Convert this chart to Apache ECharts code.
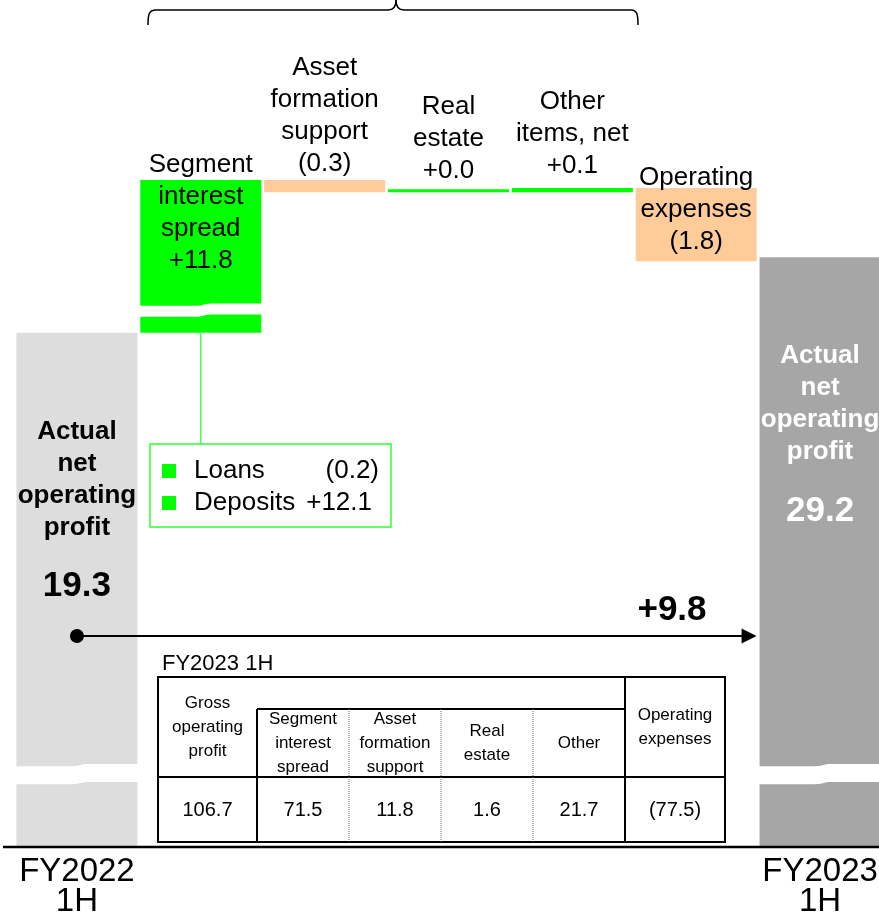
<!DOCTYPE html>
<html>
<head>
<meta charset="utf-8">
<script src="https://cdn.jsdelivr.net/npm/echarts@6/dist/echarts.min.js"></script>
<style>
  html, body { margin: 0; padding: 0; background: #fff; }
  #chart { width: 879px; height: 913px; }
</style>
</head>
<body>
<div id="chart"></div>
<script>
// ---- data ----
const categories = [
  'FY2022\n1H',
  'Segment\ninterest\nspread',
  'Asset\nformation\nsupport',
  'Real\nestate',
  'Other\nitems, net',
  'Operating\nexpenses',
  'FY2023\n1H'
];
const startValue = 19.3;                     // FY2022 1H
const changes = [11.8, -0.3, 0.0, 0.1, -1.8]; // bridge items
const endValue = 29.2;                       // FY2023 1H
const totalChange = 9.8;
const totalTitle = ['Actual', 'net', 'operating', 'profit'];

const breakdownNames = ['Loans', 'Deposits'];
const breakdownValues = [-0.2, 12.1];

const tableTitle = 'FY2023 1H';
const tableHeaders = [
  'Gross\noperating\nprofit',
  'Segment\ninterest\nspread',
  'Asset\nformation\nsupport',
  'Real\nestate',
  'Other',
  'Operating\nexpenses'
];
const tableValues = [106.7, 71.5, 11.8, 1.6, 21.7, -77.5];

// compressed value ranges of the y axis
const axisBreaks = [[1.55, 8.65], [19.72, 28.03]];

// ---- helpers ----
const FONT = "'Liberation Sans', Arial, Helvetica, sans-serif";
const fmtChange = v => v < 0 ? '(' + Math.abs(v).toFixed(1) + ')' : '+' + v.toFixed(1);
const fmtPlain = v => v < 0 ? '(' + Math.abs(v).toFixed(1) + ')' : v.toFixed(1);

// waterfall: invisible base + visible segment
const bases = [0];
const heights = [startValue];
let running = startValue;
changes.forEach(c => {
  bases.push(c >= 0 ? running : running + c);
  heights.push(Math.abs(c));
  running += c;
});
bases.push(0);
heights.push(endValue);

const PX_PER_UNIT = 40.6;
const BAR_W = 121;

const colorFor = i => {
  if (i === 0) return '#dddddd';
  if (i === categories.length - 1) return '#a6a6a6';
  return changes[i - 1] >= 0 ? '#00ff00' : '#ffcc99';
};

const totalLabel = (value, color) => ({
  show: true,
  position: 'insideTop',
  distance: 83,
  formatter: totalTitle.map(t => '{t|' + t + '}').join('\n') + '\n{v|' + value.toFixed(1) + '}',
  rich: {
    t: { fontFamily: FONT, fontSize: 26, fontWeight: 'bold', lineHeight: 32, color: color },
    v: { fontFamily: FONT, fontSize: 35, fontWeight: 'bold', lineHeight: 86, color: color }
  }
});

// label placement of the bridge items
const midLabelPlace = [
  { position: 'insideTop', distance: 0, offset: [0, -31] },
  { position: 'top', distance: 0, offset: [0, 0] },
  { position: 'top', distance: 2, offset: [0, 0] },
  { position: 'top', distance: 6, offset: [0, 0] },
  { position: 'insideTop', distance: 0, offset: [0, -26] }
];

const seriesData = heights.map((h, i) => {
  let label;
  if (i === 0) label = totalLabel(startValue, '#000');
  else if (i === categories.length - 1) label = totalLabel(endValue, '#fff');
  else {
    const p = midLabelPlace[i - 1];
    label = {
      show: true,
      position: p.position,
      distance: p.distance,
      offset: p.offset,
      formatter: categories[i] + '\n' + fmtChange(changes[i - 1]),
      fontFamily: FONT,
      fontSize: 26,
      lineHeight: 32,
      color: '#000'
    };
  }
  return { value: h, itemStyle: { color: colorFor(i) }, label };
});

const unitsShown = 32 - axisBreaks.reduce((s, b) => s + (b[1] - b[0]), 0);
const gapA = 18 / PX_PER_UNIT;
const gapB = 11 / PX_PER_UNIT;
const axisPx = (unitsShown + gapA + gapB) * PX_PER_UNIT;
const ZERO_Y = 846;

const chart = echarts.init(document.getElementById('chart'), null, { renderer: 'canvas' });

chart.setOption({
  animation: false,
  backgroundColor: '#fff',
  textStyle: { fontFamily: FONT },
  grid: { left: 15, width: 867, top: ZERO_Y - axisPx, height: axisPx, containLabel: false, outerBoundsMode: 'none' },
  xAxis: {
    type: 'category',
    data: categories,
    axisLine: { show: false },
    axisTick: { show: false },
    axisLabel: {
      interval: 0,
      margin: 11,
      fontFamily: FONT,
      fontSize: 33,
      lineHeight: 30,
      color: '#000',
      formatter: (v, i) => (i === 0 || i === categories.length - 1) ? v : ''
    }
  },
  yAxis: {
    type: 'value',
    min: 0,
    max: 32,
    axisLine: { show: false },
    axisTick: { show: false },
    axisLabel: { show: false },
    splitLine: { show: false },
    breaks: [
      { start: axisBreaks[0][0], end: axisBreaks[0][1], gap: gapA },
      { start: axisBreaks[1][0], end: axisBreaks[1][1], gap: gapB }
    ],
    breakArea: { show: false, itemStyle: { opacity: 0, borderWidth: 0 } }
  },
  series: [
    {
      name: 'base',
      type: 'bar',
      stack: 'bridge',
      barWidth: BAR_W,
      silent: true,
      itemStyle: { color: 'rgba(0,0,0,0)' },
      data: bases
    },
    {
      name: 'value',
      type: 'bar',
      stack: 'bridge',
      barWidth: BAR_W,
      barMinHeight: 3,
      data: seriesData
    }
  ]
});

// ---- annotations ----
const px = (i) => chart.convertToPixel({ xAxisIndex: 0 }, i);
const py = (v) => chart.convertToPixel({ yAxisIndex: 0 }, v);

// white wavy cut across a bar where the axis is broken
function breakStrip(xc, yTop, yBot) {
  const x0 = xc - BAR_W / 2 - 1, x1 = xc + BAR_W / 2 + 2, xm = xc + 3, d = 1.1;
  const edge = (x, y) => y - d * Math.tanh((x - xm) / 4);
  const top = [], bot = [];
  for (let x = x0; x <= x1 + 0.01; x += 2) {
    top.push([x, edge(x, yTop)]);
    bot.push([x, edge(x, yBot)]);
  }
  return { type: 'polygon', shape: { points: top.concat(bot.reverse()) }, style: { fill: '#fff' }, z: 50 };
}

const g = [];
const last = categories.length - 1;

// axis-break cuts
const aTop = py(axisBreaks[0][1]), aBot = py(axisBreaks[0][0]);
const bTop = py(axisBreaks[1][1]), bBot = py(axisBreaks[1][0]);
g.push(breakStrip(px(0), aTop, aBot));
g.push(breakStrip(px(last), aTop, aBot));
g.push(breakStrip(px(1), bTop, bBot));

// baseline
const baseY = py(0) + 1;
g.push({ type: 'line', shape: { x1: 3, y1: baseY, x2: 879, y2: baseY }, style: { stroke: '#000', lineWidth: 2.5 }, z: 60 });

// brace over the bridge items
const braceStyle = { fill: 'none', stroke: '#000', lineWidth: 1.5 };
g.push({ type: 'bezierCurve', shape: { x1: 148, y1: 25, x2: 156, y2: 10, cpx1: 148, cpy1: 14, cpx2: 149, cpy2: 10 }, style: braceStyle, z: 60 });
g.push({ type: 'line', shape: { x1: 156, y1: 10, x2: 388, y2: 10 }, style: braceStyle, z: 60 });
g.push({ type: 'bezierCurve', shape: { x1: 388, y1: 10, x2: 396, y2: 0, cpx1: 394, cpy1: 10, cpx2: 396, cpy2: 6 }, style: braceStyle, z: 60 });
g.push({ type: 'bezierCurve', shape: { x1: 396, y1: 0, x2: 404, y2: 10, cpx1: 396, cpy1: 6, cpx2: 398, cpy2: 10 }, style: braceStyle, z: 60 });
g.push({ type: 'line', shape: { x1: 404, y1: 10, x2: 631, y2: 10 }, style: braceStyle, z: 60 });
g.push({ type: 'bezierCurve', shape: { x1: 631, y1: 10, x2: 638, y2: 25, cpx1: 637, cpy1: 10, cpx2: 638, cpy2: 14 }, style: braceStyle, z: 60 });

// breakdown of the segment interest spread
const segX = px(1);
const segBottomY = py(startValue);
const box = { x: 150, y: 444, w: 241, h: 83 };
g.push({ type: 'line', shape: { x1: segX, y1: segBottomY, x2: segX, y2: box.y }, style: { stroke: '#33ff33', lineWidth: 1.3 }, z: 60 });
g.push({ type: 'rect', shape: { x: box.x, y: box.y, width: box.w, height: box.h }, style: { fill: '#fff', stroke: '#33ff33', lineWidth: 1.5 }, z: 60 });
breakdownNames.forEach((n, i) => {
  const cy = 471 + i * 32;
  g.push({ type: 'rect', shape: { x: 162, y: cy - 7, width: 14, height: 14 }, style: { fill: '#00ff00' }, z: 61 });
  g.push({ type: 'text', x: 194, y: cy, style: { text: n, fontFamily: FONT, fontSize: 26, fill: '#000', textAlign: 'left', textVerticalAlign: 'middle' }, z: 61 });
  const v = breakdownValues[i];
  g.push({ type: 'text', x: v < 0 ? 379 : 372, y: cy, style: { text: fmtChange(v), fontFamily: FONT, fontSize: 26, fill: '#000', textAlign: 'right', textVerticalAlign: 'middle' }, z: 61 });
});

// total change arrow
const arrowY = 636;
const ax0 = px(0), ax1 = px(last) - BAR_W / 2 - 3;
g.push({ type: 'line', shape: { x1: ax0, y1: arrowY, x2: ax1 - 12, y2: arrowY }, style: { stroke: '#000', lineWidth: 2 }, z: 60 });
g.push({ type: 'circle', shape: { cx: ax0, cy: arrowY, r: 7 }, style: { fill: '#000' }, z: 60 });
g.push({ type: 'polygon', shape: { points: [[ax1 - 15, arrowY - 7.5], [ax1, arrowY], [ax1 - 15, arrowY + 7.5]] }, style: { fill: '#000' }, z: 60 });
g.push({ type: 'text', x: 672, y: 610, style: { text: fmtChange(totalChange), fontFamily: FONT, fontSize: 35, fontWeight: 'bold', fill: '#000', textAlign: 'center', textVerticalAlign: 'middle' }, z: 60 });

// FY2023 1H breakdown table
const cols = [158, 257, 349, 441, 533, 625, 725];
const T = { top: 677, mid: 709, div: 777, bot: 842 };
g.push({ type: 'text', x: 162, y: 664, style: { text: tableTitle, fontFamily: FONT, fontSize: 22, fill: '#000', textAlign: 'left', textVerticalAlign: 'middle' }, z: 60 });
g.push({ type: 'rect', shape: { x: cols[0], y: T.top, width: cols[6] - cols[0], height: T.bot - T.top }, style: { fill: '#fff', stroke: '#000', lineWidth: 2 }, z: 60 });
const tl = (x1, y1, x2, y2, dotted) => g.push({
  type: 'line', shape: { x1, y1, x2, y2 },
  style: dotted ? { stroke: '#666', lineWidth: 1, lineDash: [1, 1] } : { stroke: '#000', lineWidth: 2 },
  z: 61
});
tl(cols[1], T.mid, cols[5], T.mid);
tl(cols[0], T.div, cols[6], T.div);
tl(cols[1], T.mid, cols[1], T.bot);
tl(cols[5], T.top, cols[5], T.bot);
tl(cols[2], T.mid, cols[2], T.bot, true);
tl(cols[3], T.mid, cols[3], T.bot, true);
tl(cols[4], T.mid, cols[4], T.bot, true);

tableHeaders.forEach((h, i) => {
  const cx = (cols[i] + cols[i + 1]) / 2;
  const sub = i >= 1 && i <= 4;
  const cy = sub ? (T.mid + T.div) / 2 : (T.top + T.div) / 2;
  g.push({ type: 'text', x: cx, y: cy, style: { text: h, fontFamily: FONT, fontSize: 17, lineHeight: 24, fill: '#000', textAlign: 'center', textVerticalAlign: 'middle' }, z: 62 });
  g.push({ type: 'text', x: cx, y: (T.div + T.bot) / 2 + 1, style: { text: fmtPlain(tableValues[i]), fontFamily: FONT, fontSize: 20, fill: '#000', textAlign: 'center', textVerticalAlign: 'middle' }, z: 62 });
});

chart.setOption({ graphic: g });
</script>
</body>
</html>
